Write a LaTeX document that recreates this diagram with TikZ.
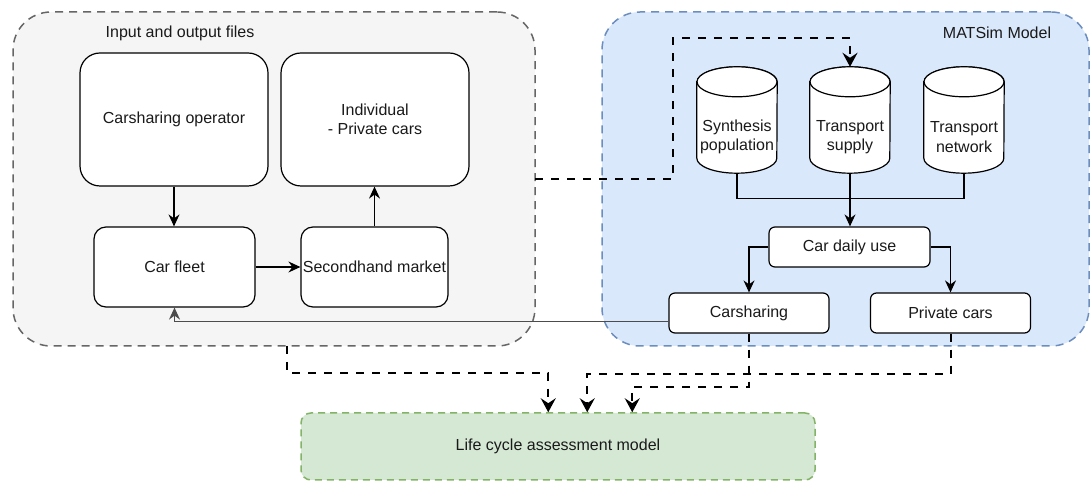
\documentclass[tikz,border=0pt]{standalone}
\usepackage{fontspec}
\setmainfont{Liberation Sans}
\usetikzlibrary{arrows.meta,calc}
\pgfdeclarelayer{bg}
\pgfdeclarelayer{mid}
\pgfsetlayers{bg,mid,main}
\definecolor{grayfill}{HTML}{F5F5F5}
\definecolor{graystroke}{HTML}{666666}
\definecolor{bluefill}{HTML}{DAE8FC}
\definecolor{bluestroke}{HTML}{6C8EBF}
\definecolor{greenfill}{HTML}{D5E8D4}
\definecolor{greenstroke}{HTML}{82B366}
\definecolor{ink}{HTML}{1A1A1A}
\begin{document}
\begin{tikzpicture}[x=1pt,y=1pt,
  every node/.style={font=\fontsize{16}{19.5}\selectfont, text=ink, inner sep=0pt, align=center},
  container/.style={rectangle, rounded corners=38pt, line width=1.5pt, dash pattern=on 8pt off 6pt},
  box/.style={rectangle, draw=black, fill=white, line width=1.2pt, rounded corners=#1},
  box/.default=12pt,
  cyl/.style={draw=black, fill=white, line width=1.2pt},
  plain/.style={draw=black, line width=1.2pt},
  conn/.style={plain, -{Stealth[length=12pt,width=11pt,inset=4pt]}},
  grayconn/.style={draw=black!70, line width=1.2pt, -{Stealth[length=12pt,width=11pt,inset=4pt]}},
  dconn/.style={draw=black, line width=2pt, dash pattern=on 8pt off 8pt,
    -{Stealth[length=14pt,width=15pt,inset=5pt]}},
]
% y grows upward here: a point at (x, Y) in the layout sits at (x, 492-Y)
\useasboundingbox (0,0) rectangle (1091,492);

% containers
\begin{pgfonlayer}{bg}
  \node[container, draw=graystroke, fill=grayfill, minimum width=522pt, minimum height=334pt] (io) at (274,313) {};
  \node[container, draw=bluestroke, fill=bluefill, minimum width=487pt, minimum height=334pt] (mm) at (845.5,313) {};
  \node[rectangle, rounded corners=10pt, line width=1.5pt, dash pattern=on 7pt off 5pt,
        draw=greenstroke, fill=greenfill, minimum width=514pt, minimum height=67pt] (lca) at (558,45.5) {Life cycle assessment model};
\end{pgfonlayer}

\node (iotitle) at (180,459) {Input and output files};
\node (mmtitle) at (997,459) {MATSim Model};

% input and output files
\node[box=20pt, minimum width=188pt, minimum height=133pt] (cso) at (174,372.5) {Carsharing operator};
\node[box=20pt, minimum width=188pt, minimum height=133pt] (ind) at (375,372.5) {Individual\\- Private cars};
\node[box, minimum width=161pt, minimum height=80pt] (cf) at (174.5,225) {Car fleet};
\node[box, minimum width=147pt, minimum height=80pt] (sh) at (374.5,225) {Secondhand market};

% MATSim model
\node[minimum width=80pt, minimum height=106pt] (sp) at (737,372) {};
\node[minimum width=80pt, minimum height=106pt] (ts) at (850,372) {};
\node[minimum width=80pt, minimum height=106pt] (tn) at (964,372) {};
\node (spt) at (737,355) {Synthesis\\population};
\node (tst) at (850,355) {Transport\\supply};
\node (tnt) at (964,355) {Transport\\network};

\begin{pgfonlayer}{mid}
  \foreach \c in {sp,ts,tn}{
    \draw[cyl] ($(\c.north west)+(0,-15)$) -- ($(\c.south west)+(0,15)$)
      arc[start angle=180, end angle=360, x radius=40pt, y radius=15pt]
      -- ($(\c.north east)+(0,-15)$)
      arc[start angle=0, end angle=180, x radius=40pt, y radius=15pt] -- cycle;
    \draw[cyl] ($(\c.north)+(0,-15)$) ellipse[x radius=40pt, y radius=15pt];
  }
\end{pgfonlayer}

\node[box=6pt, minimum width=161pt, minimum height=40pt] (cdu) at (849.5,245) {Car daily use};
\node[box=6pt, minimum width=160pt, minimum height=40pt] (cs) at (749,179) {Carsharing};
\node[box=6pt, minimum width=160pt, minimum height=40pt] (pc) at (950.5,179) {Private cars};

% solid connectors
\draw[conn] (cso.south) -- (cso.south |- cf.north);
\draw[conn] (cf.east) -- (sh.west);
\draw[conn] (sh.north) -- (sh.north |- ind.south);
\draw[grayconn] ($(cs.south west)+(0,12)$) -| (cf.south);
\draw[plain] (sp.south) -- ++(0,-25) -| (tn.south);
\draw[conn] (ts.south) -- (ts.south |- cdu.north);
\draw[conn] (cdu.west) -| (cs.north);
\draw[conn] (cdu.east) -| (pc.north);

% dashed data flows
\coordinate (ioE) at (535,313);
\coordinate (ioS) at (287,146);
\draw[dconn] (ioE) -- (673,313) -- (673,454) -| (ts.north);
\draw[dconn] (ioS) -- (287,119) -| ($(lca.north west)+(248,0)$);
\draw[dconn] (pc.south) -- ++(0,-40) -| ($(lca.north west)+(287,0)$);
\draw[dconn] (cs.south) -- ++(0,-53) -| ($(lca.north west)+(332,0)$);
\end{tikzpicture}
\end{document}
